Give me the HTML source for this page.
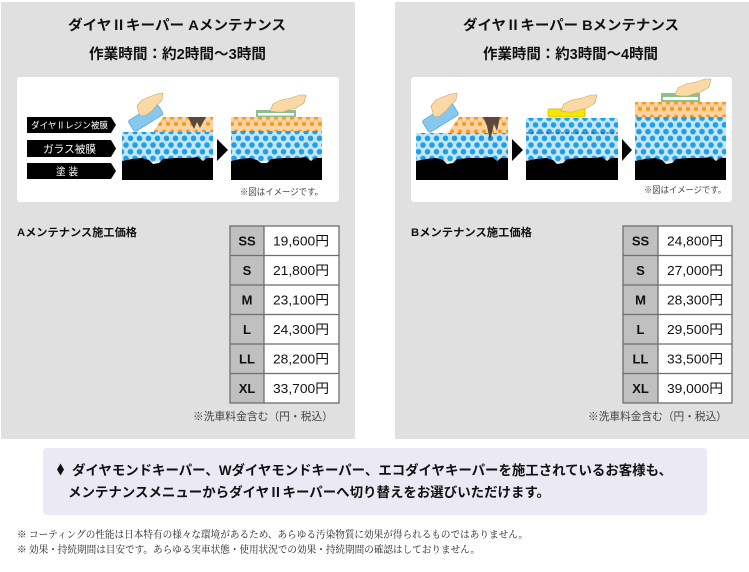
<!DOCTYPE html>
<html><head><meta charset="utf-8"><style>
html,body{margin:0;padding:0;background:#fff;width:749px;height:572px;overflow:hidden}
svg{display:block}
.s{font-family:"Liberation Sans","Noto Sans CJK JP",sans-serif}
.b{font-weight:bold}
.m{font-family:"Liberation Serif","Noto Serif CJK SC",serif}
</style></head><body>
<svg width="749" height="572" viewBox="0 0 749 572" xmlns="http://www.w3.org/2000/svg">
<defs>
<pattern id="bd" patternUnits="userSpaceOnUse" width="9" height="13.4" x="0" y="1">
<rect width="9" height="13.4" fill="#c4e6f8"/>
<circle cx="4.5" cy="3.3" r="2.8" fill="#1e9fe6"/>
<circle cx="0" cy="10" r="2.8" fill="#1e9fe6"/>
<circle cx="9" cy="10" r="2.8" fill="#1e9fe6"/>
</pattern>
<pattern id="od" patternUnits="userSpaceOnUse" width="8" height="14" x="0" y="115">
<rect width="8" height="14" fill="#fbd3a2"/>
<path d="M0,9 L4,2.5 L8,9" stroke="#f4b46a" stroke-width="0.8" fill="none"/>
<circle cx="4" cy="2.5" r="2" fill="#f39a1e"/>
<circle cx="0" cy="9" r="2" fill="#f39a1e"/>
<circle cx="8" cy="9" r="2" fill="#f39a1e"/>
</pattern>
<pattern id="od2" patternUnits="userSpaceOnUse" width="8" height="14" x="0" y="100">
<rect width="8" height="14" fill="#fbd3a2"/>
<path d="M0,9 L4,2.5 L8,9" stroke="#f4b46a" stroke-width="0.8" fill="none"/>
<circle cx="4" cy="2.5" r="2" fill="#f39a1e"/>
<circle cx="0" cy="9" r="2" fill="#f39a1e"/>
<circle cx="8" cy="9" r="2" fill="#f39a1e"/>
</pattern>
</defs>

<!-- Panels -->
<rect x="1" y="2" width="354" height="437" fill="#e0e0e0"/>
<rect x="395" y="2" width="354" height="437" fill="#e0e0e0"/>

<text class="s b" x="68" y="30" font-size="14" textLength="218" lengthAdjust="spacingAndGlyphs" fill="#111">ダイヤⅡキーパー Aメンテナンス</text>
<text class="s b" x="89" y="59" font-size="14.5" textLength="177" lengthAdjust="spacingAndGlyphs" fill="#111">作業時間：約2時間～3時間</text>
<text class="s b" x="463" y="30" font-size="14" textLength="216" lengthAdjust="spacingAndGlyphs" fill="#111">ダイヤⅡキーパー Bメンテナンス</text>
<text class="s b" x="483" y="59" font-size="14.5" textLength="175" lengthAdjust="spacingAndGlyphs" fill="#111">作業時間：約3時間～4時間</text>

<!-- White image boxes -->
<rect x="17" y="77" width="322" height="125" rx="3" fill="#fff"/>
<rect x="411" y="77" width="321" height="125" rx="3" fill="#fff"/>

<!-- Labels A -->
<path d="M27,117 H111 L116,125 L111,133 H27 Z" fill="#000"/>
<path d="M27,140 H111 L116,148.5 L111,157 H27 Z" fill="#000"/>
<path d="M27,163 H111 L116,171 L111,179 H27 Z" fill="#000"/>
<text class="s" x="31" y="128.5" font-size="9" textLength="77" lengthAdjust="spacingAndGlyphs" fill="#fff">ダイヤⅡレジン被膜</text>
<text class="s" x="43" y="152.5" font-size="10.5" textLength="53" lengthAdjust="spacingAndGlyphs" fill="#fff">ガラス被膜</text>
<text class="s" x="56" y="175" font-size="10.5" textLength="22" lengthAdjust="spacingAndGlyphs" fill="#fff">塗 装</text>

<!-- Diagram A1 -->
<rect x="122" y="132" width="91" height="30" fill="url(#bd)"/>
<polygon points="153,132 163,117 213,117 213,132" fill="url(#od)"/>
<path d="M188,117 L206,117 L200,128 L197,122 L194,129 Z" fill="#5b4a3c"/>
<path d="M122,180 V161 L132,159 L142,158 L149,160 L153,164 L159,163 L163,159 L176,158 L190,158 L198,157 L203,161 L207,158 L213,158 V180 Z" fill="#000"/>
<g transform="rotate(-32 146 118)"><rect x="129" y="111" width="34" height="13" rx="2" fill="#86c8ee" stroke="#4a9fd0" stroke-width="0.7"/></g>
<path d="M140,116 L137,106 L142,100 L149,97 L157,94 L163,93 L162,100 L157,105 L152,111 L146,115 Z" fill="#fbd9a4" stroke="#c9a470" stroke-width="0.6"/>

<polygon points="217,139 228,150 217,161" fill="#000"/>

<!-- Diagram A2 -->
<rect x="231" y="131" width="91" height="30" fill="url(#bd)"/>
<rect x="231" y="117" width="91" height="14" fill="url(#od)"/>
<path d="M231,180 V161 L240,159 L250,158 L257,160 L261,163 L267,163 L271,159 L285,158 L298,158 L306,157 L311,161 L315,158 L322,158 V180 Z" fill="#000"/>
<rect x="256" y="110" width="40" height="7" fill="#8fbf8f"/>
<rect x="258" y="113" width="36" height="2.5" fill="#fff"/>
<path d="M270,111 L273,104 L281,100 L291,98 L300,95 L306,95 L304,103 L296,108 L288,110 L283,112 L277,112 Z" fill="#fbd9a4" stroke="#c9a470" stroke-width="0.6"/>

<text class="s" x="240" y="195" font-size="9" textLength="83" lengthAdjust="spacingAndGlyphs" fill="#444">※図はイメージです。</text>

<!-- Diagram B1 -->
<rect x="416" y="133" width="92" height="29" fill="url(#bd)"/>
<polygon points="448,133 459,117 508,117 508,133" fill="url(#od)"/>
<path d="M483,117 L500,117 L497,131 L494,124 L490,141 L487,126 Z" fill="#5b4a3c"/>
<path d="M416,180 V161 L426,159 L436,158 L443,160 L447,164 L453,163 L457,159 L470,158 L484,158 L492,157 L497,161 L501,158 L508,158 V180 Z" fill="#000"/>
<g transform="rotate(-32 440 118)"><rect x="423" y="111" width="35" height="14" rx="2" fill="#86c8ee" stroke="#4a9fd0" stroke-width="0.7"/></g>
<path d="M434,117 L431,106 L436,100 L443,97 L451,94 L457,93 L456,100 L451,105 L446,111 L440,116 Z" fill="#fbd9a4" stroke="#c9a470" stroke-width="0.6"/>

<polygon points="512,139 523,150 512,161" fill="#000"/>

<!-- Diagram B2 -->
<rect x="526" y="118" width="92" height="44" fill="url(#bd)"/>
<line x1="526" y1="133" x2="618" y2="133" stroke="#333" stroke-width="0.8" stroke-dasharray="3,2"/>
<path d="M526,180 V161 L536,159 L546,158 L553,160 L557,164 L563,163 L567,159 L580,158 L594,158 L602,157 L607,161 L611,158 L618,158 V180 Z" fill="#000"/>
<rect x="548" y="109" width="37" height="8" rx="1.5" fill="#f7e600" stroke="#c8b400" stroke-width="0.7"/>
<path d="M561,111 L564,104 L572,100 L582,98 L591,95 L597,95 L595,103 L587,108 L579,110 L574,112 L568,112 Z" fill="#fbd9a4" stroke="#c9a470" stroke-width="0.6"/>

<polygon points="622,139 632,150 622,161" fill="#000"/>

<!-- Diagram B3 -->
<rect x="635" y="117" width="91" height="45" fill="url(#bd)"/>
<rect x="635" y="102" width="91" height="15" fill="url(#od2)"/>
<path d="M635,180 V161 L645,159 L655,158 L662,160 L666,164 L672,163 L676,159 L689,158 L703,158 L711,157 L716,161 L720,158 L726,158 V180 Z" fill="#000"/>
<rect x="661" y="93" width="39" height="9" fill="#8fbf8f"/>
<rect x="663" y="97" width="35" height="3" fill="#fff"/>
<path d="M675,95 L678,88 L686,84 L696,82 L705,79 L711,79 L709,87 L701,92 L693,94 L688,96 L681,96 Z" fill="#fbd9a4" stroke="#c9a470" stroke-width="0.6"/>

<text class="s" x="644" y="193" font-size="9" textLength="82" lengthAdjust="spacingAndGlyphs" fill="#444">※図はイメージです。</text>

<!-- Price sections -->
<text class="s b" x="17" y="236" font-size="11" textLength="120" lengthAdjust="spacingAndGlyphs" fill="#111">Aメンテナンス施工価格</text>
<text class="s b" x="411" y="236" font-size="11" textLength="121" lengthAdjust="spacingAndGlyphs" fill="#111">Bメンテナンス施工価格</text>

<!-- Table A -->
<rect x="230" y="226" width="34" height="177" fill="#c0c0c0"/>
<rect x="264" y="226" width="75" height="177" fill="#fff"/>
<g stroke="#6e6e6e" stroke-width="1.3" fill="none">
<rect x="230" y="226" width="109" height="177"/>
<line x1="264" y1="226" x2="264" y2="403"/>
<line x1="230" y1="255.5" x2="339" y2="255.5"/>
<line x1="230" y1="285" x2="339" y2="285"/>
<line x1="230" y1="314.5" x2="339" y2="314.5"/>
<line x1="230" y1="344" x2="339" y2="344"/>
<line x1="230" y1="373.5" x2="339" y2="373.5"/>
</g>
<g class="s b" font-size="13" fill="#111" text-anchor="middle">
<text x="247" y="245.5">SS</text>
<text x="247" y="275">S</text>
<text x="247" y="304.5">M</text>
<text x="247" y="334">L</text>
<text x="247" y="363.5">LL</text>
<text x="247" y="393">XL</text>
</g>
<g class="s" font-size="13" fill="#111" text-anchor="middle">
<text x="301" y="245.5" textLength="56" lengthAdjust="spacingAndGlyphs">19,600円</text>
<text x="301" y="275" textLength="56" lengthAdjust="spacingAndGlyphs">21,800円</text>
<text x="301" y="304.5" textLength="56" lengthAdjust="spacingAndGlyphs">23,100円</text>
<text x="301" y="334" textLength="56" lengthAdjust="spacingAndGlyphs">24,300円</text>
<text x="301" y="363.5" textLength="56" lengthAdjust="spacingAndGlyphs">28,200円</text>
<text x="301" y="393" textLength="56" lengthAdjust="spacingAndGlyphs">33,700円</text>
</g>
<text class="s" x="193" y="420" font-size="11" textLength="140" lengthAdjust="spacingAndGlyphs" fill="#444">※洗車料金含む（円・税込）</text>

<!-- Table B -->
<rect x="623" y="226" width="35" height="177" fill="#c0c0c0"/>
<rect x="658" y="226" width="74" height="177" fill="#fff"/>
<g stroke="#6e6e6e" stroke-width="1.3" fill="none">
<rect x="623" y="226" width="109" height="177"/>
<line x1="658" y1="226" x2="658" y2="403"/>
<line x1="623" y1="255.5" x2="732" y2="255.5"/>
<line x1="623" y1="285" x2="732" y2="285"/>
<line x1="623" y1="314.5" x2="732" y2="314.5"/>
<line x1="623" y1="344" x2="732" y2="344"/>
<line x1="623" y1="373.5" x2="732" y2="373.5"/>
</g>
<g class="s b" font-size="13" fill="#111" text-anchor="middle">
<text x="640.5" y="245.5">SS</text>
<text x="640.5" y="275">S</text>
<text x="640.5" y="304.5">M</text>
<text x="640.5" y="334">L</text>
<text x="640.5" y="363.5">LL</text>
<text x="640.5" y="393">XL</text>
</g>
<g class="s" font-size="13" fill="#111" text-anchor="middle">
<text x="695" y="245.5" textLength="56" lengthAdjust="spacingAndGlyphs">24,800円</text>
<text x="695" y="275" textLength="56" lengthAdjust="spacingAndGlyphs">27,000円</text>
<text x="695" y="304.5" textLength="56" lengthAdjust="spacingAndGlyphs">28,300円</text>
<text x="695" y="334" textLength="56" lengthAdjust="spacingAndGlyphs">29,500円</text>
<text x="695" y="363.5" textLength="56" lengthAdjust="spacingAndGlyphs">33,500円</text>
<text x="695" y="393" textLength="56" lengthAdjust="spacingAndGlyphs">39,000円</text>
</g>
<text class="s" x="588" y="420" font-size="11" textLength="139" lengthAdjust="spacingAndGlyphs" fill="#444">※洗車料金含む（円・税込）</text>

<!-- Purple notice -->
<rect x="43" y="448" width="664" height="67" rx="4" fill="#ebe9f4"/>
<polygon points="60.5,463.5 64,469.5 60.5,475.5 57,469.5" fill="#111"/>
<text class="s b" x="72" y="475" font-size="13.4" textLength="600" lengthAdjust="spacingAndGlyphs" fill="#111">ダイヤモンドキーパー、Wダイヤモンドキーパー、エコダイヤキーパーを施工されているお客様も、</text>
<text class="s b" x="68" y="497" font-size="13.4" textLength="482" lengthAdjust="spacingAndGlyphs" fill="#111">メンテナンスメニューからダイヤⅡキーパーへ切り替えをお選びいただけます。</text>

<!-- Footnotes -->
<text class="m" x="17" y="538" font-size="10" textLength="511" lengthAdjust="spacingAndGlyphs" fill="#222">※ コーティングの性能は日本特有の様々な環境があるため、あらゆる汚染物質に効果が得られるものではありません。</text>
<text class="m" x="17" y="553" font-size="10" textLength="463" lengthAdjust="spacingAndGlyphs" fill="#222">※ 効果・持続期間は目安です。あらゆる実車状態・使用状況での効果・持続期間の確認はしておりません。</text>
</svg>
</body></html>
